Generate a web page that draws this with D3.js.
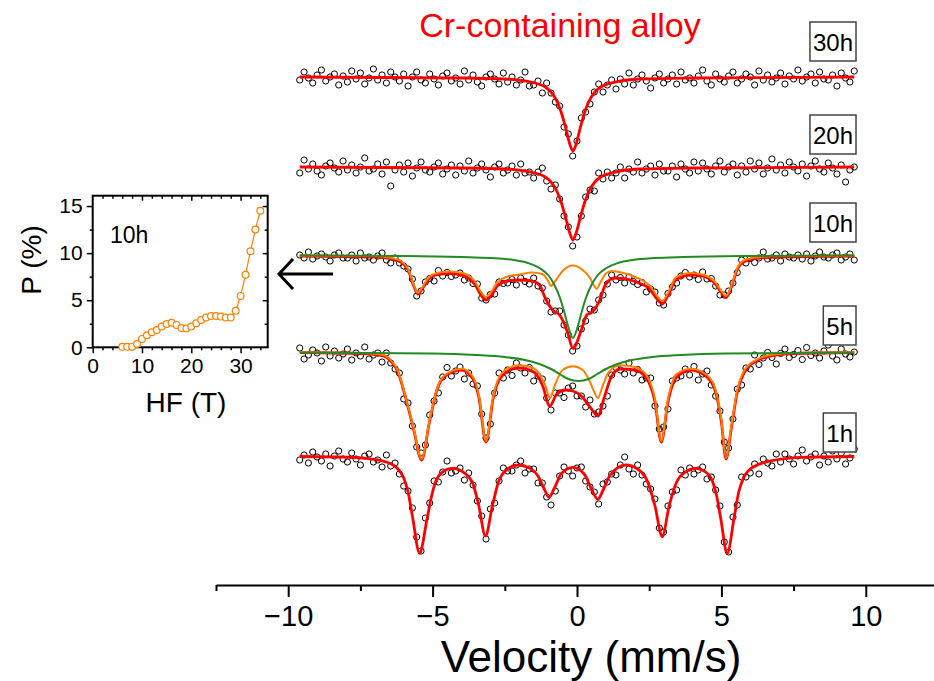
<!DOCTYPE html>
<html>
<head>
<meta charset="utf-8">
<script src="https://cdn.jsdelivr.net/npm/d3@7"></script>
<style>
  body { margin: 0; background: #fff; }
  svg text { font-family: Arial, "Liberation Sans", sans-serif; }
</style>
</head>
<body>
<svg width="934" height="681"></svg>
<script>
// ---- data -----------------------------------------------------------
// measured spectra: relative absorption (%) on 129 evenly spaced velocity channels, -9.6 .. 9.6 mm/s
var velRange = [-9.6, 9.6];
var labels = ["30h", "20h", "10h", "5h", "1h"];
var offsets = [0, 9.0, 17.8, 27.5, 37.9];   // vertical stacking of the spectra, same units

var data30h = [0.3,-0.5,0.1,0.6,-0.2,-0.7,0.4,0.0,-0.3,0.8,
  -0.1,0.5,-0.6,0.2,-0.4,0.7,0.1,-0.8,0.3,-0.2,
  0.6,-0.5,0.0,0.4,-0.3,0.9,0.0,-0.5,0.3,0.6,
  -0.3,0.2,0.8,-0.1,-0.4,0.4,0.1,0.7,-0.6,0.3,
  -0.2,0.5,0.9,0.0,-0.3,0.2,0.7,-0.4,0.5,0.0,
  0.8,0.3,-0.5,0.9,0.8,0.4,1.6,0.6,1.6,2.5,
  2.9,5.0,5.7,7.9,6.4,4.1,3.5,2.7,1.5,0.7,
  1.5,0.8,0.3,1.2,0.2,0.7,-0.4,0.8,0.2,-0.2,
  0.4,1.1,0.1,-0.3,0.6,0.2,-0.2,0.7,-0.5,0.3,
  0.1,0.6,-0.1,-0.7,0.4,0.8,-0.3,0.2,0.5,-0.1,
  -0.5,0.6,0.2,-0.3,0.0,0.8,-0.6,0.3,-0.2,0.5,
  0.1,-0.4,0.7,-0.1,0.2,-0.7,0.4,0.0,-0.3,0.6,
  -0.5,0.2,0.3,-0.2,0.9,-0.4,0.1,0.5,-0.6];

var data20h = [0.6,-0.7,0.2,-0.3,0.4,0.8,-0.1,-0.4,0.1,0.5,
  -0.6,0.3,-0.2,0.6,0.0,-0.9,0.4,0.2,-0.3,0.7,
  -0.5,1.9,0.3,-0.2,0.5,-0.4,0.9,0.1,-0.5,0.3,
  0.5,0.0,-0.4,0.7,0.2,-0.2,0.8,-0.1,0.4,-0.6,
  0.6,0.1,-0.3,0.3,1.0,0.0,-0.3,0.6,0.3,-0.1,
  0.8,-0.3,0.6,0.5,1.1,0.5,0.1,1.4,2.2,1.8,
  3.2,4.9,6.0,7.9,7.0,4.9,3.0,2.3,2.4,0.6,
  1.2,0.5,1.1,0.6,0.0,1.1,0.2,0.5,-0.5,0.6,
  0.2,-0.1,0.8,-0.3,0.4,0.4,-0.1,1.0,-0.3,0.2,
  0.6,-0.5,0.4,-0.4,0.2,0.7,-0.1,-0.6,0.5,0.0,
  -0.3,0.8,-0.1,0.5,-0.6,0.2,-0.4,0.7,0.1,-0.8,
  0.3,-0.2,0.6,-0.5,0.0,0.4,-0.3,0.9,-0.1,-0.6,
  0.2,0.5,-0.4,0.1,0.7,-0.2,1.5,0.3,0.0];

var data10h = [0.0,0.3,-0.3,0.4,0.1,-0.1,0.2,0.6,0.0,-0.2,
  0.3,0.3,0.0,0.6,-0.2,0.3,0.2,0.5,0.1,-0.2,
  0.5,0.8,0.3,0.8,1.1,1.4,2.4,4.1,3.6,2.7,
  2.35,2.6,1.55,2.1,1.75,2.15,2.0,1.8,2.5,2.3,
  2.85,2.9,4.3,4.5,3.95,3.9,2.7,2.85,2.8,2.45,
  3.0,2.3,2.65,2.9,2.3,3.1,3.3,4.6,5.7,5.6,
  5.6,7.0,8.0,9.6,9.1,7.4,6.6,5.4,5.5,4.5,
  4.0,2.9,2.0,2.5,2.25,2.8,2.2,2.65,2.95,2.75,
  3.7,3.4,3.7,4.8,5.0,3.85,3.2,2.8,2.1,1.75,
  2.2,2.0,2.45,1.7,2.4,2.35,3.1,4.0,4.0,3.6,
  2.8,1.75,0.5,0.8,0.35,0.75,0.3,-0.3,0.4,0.3,
  0.0,0.6,-0.1,0.2,0.3,0.0,0.4,-0.1,0.6,0.1,
  -0.3,0.2,0.3,0.0,-0.2,0.5,0.2,-0.1,0.5];

var data5h = [-0.4,0.7,0.3,-0.2,0.1,0.9,-0.5,0.4,-0.1,0.6,
  0.2,-0.3,0.8,0.1,0.4,-0.5,0.7,0.3,0.1,1.0,
  0.1,1.1,1.7,2.1,4.7,5.1,7.4,9.5,10.1,9.3,
  6.3,4.9,4.1,2.5,1.55,2.4,1.9,1.5,2.7,2.1,
  3.2,3.4,6.2,8.6,7.2,4.1,2.1,2.6,1.8,2.35,
  1.1,1.6,2.1,1.55,2.9,2.4,2.7,4.6,5.8,4.1,
  4.1,4.55,3.6,3.4,4.4,4.4,5.5,4.8,6.2,6.0,
  5.4,4.4,2.3,1.55,1.8,2.2,1.1,2.1,1.75,2.8,
  2.6,2.6,5.4,7.7,7.5,5.7,2.9,2.6,2.4,1.7,
  2.3,1.45,2.8,2.2,1.9,3.3,4.4,5.9,9.0,9.6,
  6.7,3.7,3.3,1.6,1.7,0.3,1.25,0.6,0.05,0.55,
  1.2,0.15,-0.3,0.55,0.25,-0.15,0.75,-0.45,0.35,0.1,
  0.6,-0.1,-0.7,0.4,0.8,-0.3,0.2,0.5,0.0];

var data1h = [0.4,-0.1,0.7,-0.4,0.1,0.5,-0.2,1.0,0.0,-0.5,
  0.3,0.6,-0.3,0.3,0.9,0.0,-0.2,0.6,0.4,1.1,
  -0.1,1.0,0.7,1.8,3.0,3.5,5.2,8.1,9.5,6.2,
  4.7,2.5,2.6,1.6,0.5,1.7,1.5,1.2,2.4,1.7,
  2.9,4.5,6.0,8.3,5.3,4.7,2.5,1.2,1.5,1.5,
  0.9,0.5,1.7,1.3,1.3,2.7,2.7,4.1,4.9,3.5,
  2.0,1.1,1.5,2.0,1.2,1.1,2.5,3.1,3.6,4.8,
  2.8,2.6,1.8,1.9,0.9,0.1,1.3,1.8,0.9,1.9,
  2.8,3.3,4.3,7.2,7.6,5.0,3.6,3.4,1.4,1.9,
  1.2,1.8,1.4,1.1,2.3,2.1,3.4,5.0,8.6,9.6,
  6.1,4.9,2.1,2.1,1.7,0.8,1.8,0.3,0.7,1.0,
  -0.2,0.6,-0.2,0.3,0.8,0.0,-0.6,0.5,0.1,-0.2,
  0.9,0.0,0.6,-0.5,0.3,-0.3,0.8,0.2,-0.7];

// fitted curves: [velocity, absorption]
var fit30h = [[-9.6,0],[-4,0.1],[-2.5,0.2],[-1.8,0.4],[-1.4,0.65],[-1.1,1.0],[-0.9,1.5],[-0.7,2.4],[-0.55,3.5],[-0.4,5.0],[-0.25,6.7],[-0.14,7.4],[-0.03,6.7],[0.12,5.0],[0.27,3.5],[0.42,2.4],[0.62,1.5],[0.82,1.0],[1.12,0.65],[1.5,0.4],[2.2,0.2],[4,0.1],[9.6,0]];

var fit20h = [[-9.6,0],[-4,0.1],[-2.5,0.2],[-1.8,0.4],[-1.4,0.65],[-1.1,1.0],[-0.9,1.5],[-0.7,2.4],[-0.55,3.5],[-0.4,5.0],[-0.25,6.6],[-0.14,7.3],[-0.03,6.6],[0.12,5.0],[0.27,3.5],[0.42,2.4],[0.62,1.5],[0.82,1.0],[1.12,0.65],[1.5,0.4],[2.2,0.2],[4,0.1],[9.6,0]];

var fit10hTotal = [[-9.6,0.1],[-7,0.2],[-6.5,0.35],[-6.1,0.7],[-5.85,1.5],[-5.65,3.1],[-5.51,3.9],[-5.35,3.35],[-5.15,2.45],[-4.9,2.0],[-4.4,1.85],[-3.9,2.1],[-3.55,2.9],[-3.3,4.1],[-3.15,4.5],[-2.95,4.0],[-2.75,3.05],[-2.4,2.6],[-2.0,2.5],[-1.55,2.6],[-1.3,3.0],[-1.1,4.3],[-0.85,5.5],[-0.6,6.0],[-0.33,7.7],[-0.14,9.35],[0.15,7.5],[0.34,6.0],[0.53,5.7],[0.79,4.5],[0.98,3.0],[1.3,2.3],[1.6,2.35],[2.1,2.75],[2.5,3.35],[2.8,4.5],[2.95,4.9],[3.15,4.05],[3.4,2.55],[3.7,2.1],[3.96,2.0],[4.4,2.15],[4.75,2.75],[5.0,3.75],[5.16,4.25],[5.35,3.15],[5.55,1.45],[5.8,0.65],[6.3,0.3],[7,0.2],[9.6,0.1]];
var fit10hSextet = [[-9.6,0.05],[-7,0.1],[-6.5,0.25],[-6.1,0.6],[-5.85,1.4],[-5.65,3.0],[-5.51,3.8],[-5.35,3.2],[-5.15,2.3],[-4.9,1.85],[-4.4,1.65],[-3.9,1.85],[-3.55,2.6],[-3.3,3.8],[-3.15,4.2],[-2.95,3.6],[-2.75,2.7],[-2.4,2.15],[-2.0,1.95],[-1.55,1.75],[-1.2,1.9],[-1.0,2.6],[-0.9,3.1],[-0.75,2.6],[-0.5,1.6],[-0.14,1.05],[0.2,1.5],[0.45,2.3],[0.6,3.1],[0.68,3.4],[0.8,2.8],[1.0,1.85],[1.2,1.6],[1.6,1.8],[2.1,2.3],[2.5,3.0],[2.8,4.2],[2.95,4.6],[3.15,3.8],[3.4,2.3],[3.7,1.9],[3.96,1.8],[4.4,2.0],[4.75,2.6],[5.0,3.6],[5.16,4.1],[5.35,3.0],[5.55,1.3],[5.8,0.5],[6.3,0.2],[7,0.1],[9.6,0.05]];
var fit10hSinglet = [[-9.6,0.05],[-6,0.1],[-4,0.2],[-3,0.3],[-2.2,0.5],[-1.7,0.8],[-1.3,1.3],[-1.0,2.0],[-0.8,2.9],[-0.6,4.2],[-0.45,5.6],[-0.3,7.2],[-0.14,8.3],[0.02,7.2],[0.17,5.6],[0.32,4.2],[0.52,2.9],[0.72,2.0],[1.02,1.3],[1.42,0.8],[1.92,0.5],[2.7,0.3],[3.7,0.2],[6,0.1],[9.6,0.05]];

var fit5hTotal = [[-9.6,0.05],[-7.5,0.15],[-6.7,0.4],[-6.45,0.9],[-6.2,2.0],[-5.95,4.4],[-5.66,7.7],[-5.38,10.8],[-5.11,7.0],[-4.84,3.7],[-4.57,2.4],[-4.0,1.8],[-3.6,2.7],[-3.4,4.5],[-3.15,9.0],[-2.9,4.6],[-2.6,2.4],[-2.04,1.6],[-1.5,2.0],[-1.2,3.3],[-0.94,5.4],[-0.7,4.2],[-0.4,3.8],[-0.15,3.9],[0.15,4.4],[0.45,5.5],[0.72,6.4],[0.95,4.5],[1.2,2.4],[1.5,1.7],[2.0,1.8],[2.4,2.6],[2.7,5.0],[2.92,9.0],[3.15,5.0],[3.45,2.5],[3.96,1.8],[4.5,2.5],[4.8,4.0],[5.0,7.0],[5.16,10.7],[5.35,7.5],[5.55,4.0],[5.8,2.0],[6.2,0.9],[6.7,0.4],[7.5,0.15],[9.6,0.05]];
var fit5hSextet = [[-9.6,0],[-7.5,0.1],[-6.7,0.3],[-6.45,0.8],[-6.2,1.9],[-5.95,4.3],[-5.66,7.6],[-5.38,10.7],[-5.11,6.9],[-4.84,3.6],[-4.57,2.3],[-4.0,1.67],[-3.6,2.5],[-3.4,4.3],[-3.15,8.9],[-2.9,4.4],[-2.6,2.1],[-2.04,1.33],[-1.6,1.5],[-1.3,2.2],[-1.1,3.3],[-0.94,4.6],[-0.75,3.2],[-0.5,1.8],[-0.15,1.43],[0.2,1.8],[0.45,3.0],[0.6,4.0],[0.72,4.6],[0.9,3.3],[1.1,2.0],[1.5,1.33],[2.0,1.5],[2.4,2.3],[2.7,4.7],[2.92,8.9],[3.15,4.7],[3.45,2.2],[3.96,1.67],[4.5,2.3],[4.8,3.8],[5.0,6.8],[5.16,10.6],[5.35,7.3],[5.55,3.8],[5.8,1.8],[6.2,0.8],[6.7,0.3],[7.5,0.1],[9.6,0]];
var fit5hSinglet = [[-9.6,0.05],[-5,0.15],[-3.5,0.3],[-2.5,0.5],[-1.8,0.8],[-1.3,1.2],[-0.9,1.7],[-0.6,2.2],[-0.3,2.7],[0.05,2.9],[0.4,2.7],[0.7,2.2],[1.0,1.7],[1.4,1.2],[1.9,0.8],[2.6,0.5],[3.6,0.3],[5.1,0.15],[9.6,0.05]];

var fit1h = [[-9.6,0.05],[-8,0.12],[-7.3,0.23],[-6.6,0.6],[-6.2,1.3],[-6.0,2.2],[-5.85,3.6],[-5.7,6.0],[-5.45,9.7],[-5.2,6.4],[-5.05,4.2],[-4.9,2.6],[-4.7,1.7],[-4.31,1.23],[-3.9,1.7],[-3.6,2.8],[-3.4,5.0],[-3.17,8.0],[-2.93,5.0],[-2.72,2.6],[-2.4,1.3],[-2.04,0.9],[-1.65,1.2],[-1.35,2.0],[-1.15,3.2],[-0.97,4.13],[-0.78,3.2],[-0.55,1.8],[-0.14,1.13],[0.25,1.8],[0.5,3.3],[0.72,4.33],[0.92,3.3],[1.15,1.9],[1.69,0.9],[2.1,1.3],[2.45,2.6],[2.7,5.0],[2.95,8.07],[3.19,5.0],[3.45,2.6],[3.75,1.6],[4.09,1.23],[4.5,1.7],[4.7,2.6],[4.85,4.2],[4.98,6.3],[5.2,9.73],[5.45,6.0],[5.6,3.6],[5.75,2.3],[6.1,1.1],[6.86,0.4],[7.8,0.13],[9.6,0.05]];

// inset: hyperfine field distribution of the 10h sample
var hfField = [6,7,8,9,10,11,12,13,14,15,16,17,18,19,20,21,22,23,24,25,26,27,28,29,30,31,32,33,34];
var hfProb = [0.05,0.05,0.07,0.35,0.89,1.28,1.6,1.84,2.2,2.48,2.6,2.38,2.05,1.99,2.2,2.55,2.9,3.16,3.33,3.33,3.26,3.16,3.16,3.87,5.46,7.7,10.2,12.5,14.5];

var velTicks = [-10, -5, 0, 5, 10],
    velMinor = [-12.5, -7.5, -2.5, 2.5, 7.5, 12.5];

// ---- chart ----------------------------------------------------------
var RED = "#ff0000", ORANGE = "#ff8000", GREEN = "#228b22";

var spectra = [
  {label: labels[0], off: offsets[0], data: data30h, fits: [[fit30h, RED, 2.8]]},
  {label: labels[1], off: offsets[1], data: data20h, fits: [[fit20h, RED, 2.8]]},
  {label: labels[2], off: offsets[2], data: data10h, fits: [[fit10hTotal, RED, 2.8], [fit10hSextet, ORANGE, 2], [fit10hSinglet, GREEN, 2]]},
  {label: labels[3], off: offsets[3], data: data5h, fits: [[fit5hTotal, RED, 2.8], [fit5hSextet, ORANGE, 2], [fit5hSinglet, GREEN, 2]]},
  {label: labels[4], off: offsets[4], data: data1h, fits: [[fit1h, RED, 2.8]]}
];
var labelBoxTop = [22, 115, 203, 306, 413];

var svg = d3.select("svg");

var x = d3.scaleLinear().domain([-12.5, 12.5]).range([216, 938]);
var y = d3.scaleLinear().domain([0, 50]).range([77, 577]);
var chan = d3.scaleLinear().domain([0, data30h.length - 1]).range(velRange);

var plot = svg.append("g").attr("class", "spectra");

spectra.forEach(function(s, k) {
  var g = plot.append("g");

  g.selectAll("circle")
      .data(s.data)
    .enter().append("circle")
      .attr("cx", function(d, i) { return x(chan(i)); })
      .attr("cy", function(d) { return y(s.off + d); })
      .attr("r", 3.1)
      .attr("fill", "none")
      .attr("stroke", "#000")
      .attr("stroke-width", 1);

  var line = d3.line()
      .curve(d3.curveMonotoneX)
      .x(function(d) { return x(d[0]); })
      .y(function(d) { return y(s.off + d[1]); });

  s.fits.forEach(function(f) {
    g.append("path")
      .datum(f[0])
      .attr("d", line)
      .attr("fill", "none")
      .attr("stroke", f[1])
      .attr("stroke-width", f[2])
      .attr("stroke-linejoin", "round");
  });

  // sample label in a box
  var box = g.append("g");
  var t = box.append("text")
      .attr("font-size", 24)
      .attr("text-anchor", "end")
      .attr("x", 853)
      .attr("y", labelBoxTop[k] + 28.5)
      .text(s.label);
  var w = t.node().getComputedTextLength();
  box.insert("rect", "text")
      .attr("x", 856 - w - 6)
      .attr("y", labelBoxTop[k])
      .attr("width", w + 6)
      .attr("height", 39)
      .attr("fill", "#fff")
      .attr("stroke", "#444")
      .attr("stroke-width", 1.5);
});

// velocity axis
var gx = svg.append("g").attr("transform", "translate(0,585)");
gx.call(d3.axisBottom(x).tickValues(velTicks).tickSize(12).tickSizeOuter(0).tickPadding(8));
gx.append("g").call(d3.axisBottom(x).tickValues(velMinor).tickSize(6).tickFormat(""))
  .select(".domain").remove();
gx.selectAll("line, path").attr("stroke", "#000").attr("stroke-width", 2);
gx.selectAll("text").attr("font-size", 29).attr("fill", "#000")
  .attr("font-family", "Arial, 'Liberation Sans', sans-serif");

svg.append("text")
  .attr("x", 591).attr("y", 672)
  .attr("text-anchor", "middle")
  .attr("font-size", 44)
  .text("Velocity (mm/s)");

svg.append("text")
  .attr("x", 560).attr("y", 37)
  .attr("text-anchor", "middle")
  .attr("font-size", 34)
  .attr("fill", RED)
  .text("Cr-containing alloy");

// arrow pointing from the 10h spectrum to the inset
var arrow = d3.path();
arrow.moveTo(333, 274); arrow.lineTo(279, 274);
arrow.moveTo(293, 259); arrow.lineTo(279, 274); arrow.lineTo(293, 289);
svg.append("path").attr("d", arrow.toString())
  .attr("fill", "none").attr("stroke", "#000").attr("stroke-width", 3);

// ---- inset ----------------------------------------------------------
var hx = d3.scaleLinear().domain([0, 35.5]).range([92.7, 267.7]);
var hy = d3.scaleLinear().domain([0, 16.1]).range([347.3, 195.7]);
var inset = svg.append("g").attr("class", "inset");

function styleAxis(g) {
  g.selectAll("line, path").attr("stroke", "#000").attr("stroke-width", 1.5);
  g.selectAll("text").attr("font-size", 21).attr("fill", "#000")
    .attr("font-family", "Arial, 'Liberation Sans', sans-serif");
  g.select(".domain").remove();
}
var hfMinor = d3.range(2, 36, 2).filter(function(v) { return v % 10; });
var pMinor = [2.5, 7.5, 12.5];

inset.append("g").attr("transform", "translate(0,347.3)")
  .call(d3.axisBottom(hx).tickValues([0, 10, 20, 30]).tickSize(6).tickPadding(5)).call(styleAxis);
inset.append("g").attr("transform", "translate(0,347.3)")
  .call(d3.axisBottom(hx).tickValues(hfMinor).tickSize(3).tickFormat("")).call(styleAxis);
inset.append("g").attr("transform", "translate(0,195.7)")
  .call(d3.axisBottom(hx).tickValues([10, 20, 30]).tickSize(5).tickFormat("")).call(styleAxis);
inset.append("g").attr("transform", "translate(0,195.7)")
  .call(d3.axisBottom(hx).tickValues(hfMinor).tickSize(3).tickFormat("")).call(styleAxis);
inset.append("g").attr("transform", "translate(92.7,0)")
  .call(d3.axisLeft(hy).tickValues([0, 5, 10, 15]).tickSize(6).tickPadding(4)).call(styleAxis);
inset.append("g").attr("transform", "translate(92.7,0)")
  .call(d3.axisLeft(hy).tickValues(pMinor).tickSize(3).tickFormat("")).call(styleAxis);
inset.append("g").attr("transform", "translate(267.7,0)")
  .call(d3.axisLeft(hy).tickValues([5, 10, 15]).tickSize(5).tickFormat("")).call(styleAxis);
inset.append("g").attr("transform", "translate(267.7,0)")
  .call(d3.axisLeft(hy).tickValues(pMinor).tickSize(3).tickFormat("")).call(styleAxis);

inset.append("rect")
  .attr("x", hx(0)).attr("y", hy(16.1))
  .attr("width", hx(35.5) - hx(0)).attr("height", hy(0) - hy(16.1))
  .attr("fill", "none").attr("stroke", "#000").attr("stroke-width", 2);

var hfPts = hfField.map(function(f, i) { return [f, hfProb[i]]; });
inset.append("path")
  .datum(hfPts)
  .attr("d", d3.line().x(function(d) { return hx(d[0]); }).y(function(d) { return hy(d[1]); }))
  .attr("fill", "none").attr("stroke", ORANGE).attr("stroke-width", 1.2);
inset.selectAll("circle")
    .data(hfPts)
  .enter().append("circle")
    .attr("cx", function(d) { return hx(d[0]); })
    .attr("cy", function(d) { return hy(d[1]); })
    .attr("r", 3.4)
    .attr("fill", "#fff")
    .attr("stroke", ORANGE)
    .attr("stroke-width", 1.2);

inset.append("text").attr("x", 110).attr("y", 243).attr("font-size", 23).text("10h");
inset.append("text")
  .attr("transform", "translate(41,260)rotate(-90)")
  .attr("text-anchor", "middle")
  .attr("font-size", 28)
  .text("P (%)");
inset.append("text")
  .attr("x", 186).attr("y", 412)
  .attr("text-anchor", "middle")
  .attr("font-size", 28)
  .text("HF (T)");
</script>
</body>
</html>
